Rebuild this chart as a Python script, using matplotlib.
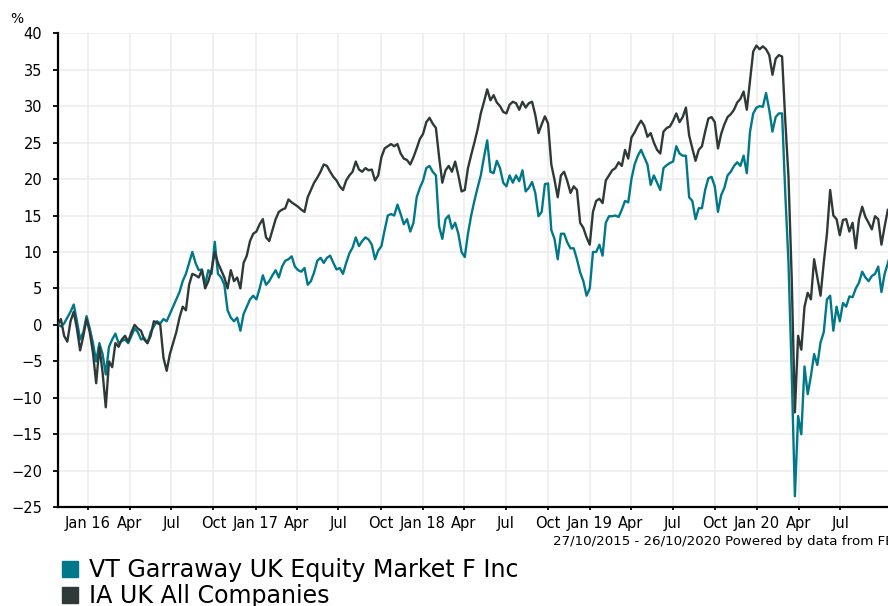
import numpy as np
import pandas as pd
import matplotlib
matplotlib.use("Agg")
import matplotlib.pyplot as plt
import matplotlib.dates as mdates
from matplotlib.patches import Rectangle

# weekly readings, 27/10/2015 - 26/10/2020, cumulative % return
start_date = "2015-10-27"
end_date = "2020-10-26"

vt_garraway = [
    0, -0.2, 0.2, 1.0, 1.8, 2.8, 0.5, -2.0, -1.0, 1.2,
    -0.5, -2.5, -5.0, -2.5, -4.0, -6.8, -3.0, -2.0, -1.2, -2.5,
    -2.2, -2.0, -2.5, -1.5, -0.5, -1.0, -2.0, -1.8, -2.5, -1.0,
    -0.2, 0.5, 0.2, 0.8, 0.5, 1.5, 2.5, 3.5, 4.5, 6.0,
    7.0, 8.5, 10.0, 8.5, 7.5, 7.6, 5.5, 7.5, 7.0, 11.4,
    7.0, 6.5, 5.5, 2.0, 1.0, 0.5, 1.0, -0.8, 1.5, 2.5,
    3.5, 4.0, 3.5, 5.0, 6.8, 5.5, 6.0, 6.8, 7.5, 6.5,
    8.0, 8.8, 9.0, 9.4, 8.0, 7.5, 7.3, 7.8, 5.5, 6.0,
    7.2, 8.8, 9.2, 8.5, 9.2, 9.5, 8.5, 7.6, 7.8, 7.0,
    8.5, 9.8, 10.6, 12.0, 10.8, 11.5, 12.0, 11.7, 11.0, 9.0,
    10.2, 10.8, 13.0, 15.0, 15.2, 15.0, 16.5, 15.2, 13.8, 14.5,
    12.8, 14.0, 17.5, 18.8, 19.8, 21.5, 21.8, 21.0, 20.5, 13.5,
    11.8, 14.5, 15.0, 13.2, 14.0, 12.5, 10.0, 9.3, 12.5, 15.0,
    17.0, 18.8, 20.5, 23.0, 25.3, 21.0, 20.8, 22.5, 21.5, 19.5,
    19.0, 20.5, 19.5, 20.5, 19.7, 21.2, 18.3, 18.8, 19.6, 18.1,
    14.9, 15.5, 19.3, 19.4, 13.0, 11.8, 9.0, 12.5, 12.5, 11.3,
    10.5, 10.5, 9.0, 7.2, 6.0, 4.0, 5.0, 10.0, 10.0, 11.0,
    9.5, 14.0, 14.9, 14.9, 15.0, 14.8, 15.8, 17.0, 16.8, 20.0,
    22.0, 23.2, 24.0, 23.0, 22.0, 19.2, 20.5, 19.5, 18.5, 21.5,
    21.9, 22.2, 22.4, 24.5, 23.5, 23.2, 23.2, 17.5, 17.0, 14.5,
    16.0, 16.0, 18.5, 20.1, 20.3, 19.0, 15.5, 17.8, 18.8, 20.5,
    21.0, 21.8, 22.3, 21.8, 23.2, 20.8, 26.5, 29.0, 29.8, 30.0,
    29.9, 31.8, 29.5, 26.5, 28.5, 29.0, 29.0, 18.0, 8.5, -6.5,
    -23.5, -12.5, -15.0, -5.7, -9.5, -7.0, -4.0, -5.5, -2.4, -1.0,
    3.5, 4.0, -0.8, 2.5, 0.5, 3.0, 2.5, 3.9, 3.8, 5.0,
    5.8, 7.3, 6.5, 6.0, 6.7, 7.0, 8.0, 4.5, 7.0, 8.5, 9.9,
]

ia_uk_all = [
    0, 0.8, -1.5, -2.3, 0.5, 1.8, -0.5, -3.5, -1.5, 0.8,
    -1.0, -3.8, -8.0, -3.0, -6.5, -11.3, -5.0, -5.8, -2.5, -3.0,
    -2.0, -1.5, -2.3, -1.0, 0.0, -0.5, -0.8, -2.0, -2.5, -1.5,
    0.5, 0.3, 0.0, -4.5, -6.3, -4.0, -2.5, -1.0, 1.0, 2.5,
    2.0, 5.5, 7.0, 6.8, 6.5, 7.5, 5.0, 6.0, 7.5, 10.0,
    8.5, 7.5, 6.5, 5.0, 7.5, 6.0, 6.5, 5.0, 8.5, 9.5,
    11.5, 12.5, 12.8, 13.8, 14.5, 12.0, 11.5, 13.0, 14.5, 15.5,
    15.8, 16.0, 17.2, 16.8, 16.5, 16.2, 15.8, 15.5, 17.5, 18.5,
    19.5, 20.2, 21.0, 22.0, 21.8, 21.0, 20.3, 19.8, 19.0, 18.5,
    19.8, 20.5, 21.0, 22.4, 21.3, 21.0, 21.5, 21.2, 21.3, 19.8,
    20.5, 23.0, 24.2, 24.5, 24.8, 24.5, 24.8, 23.5, 22.8, 22.6,
    22.0, 23.0, 24.2, 25.5, 26.2, 27.8, 28.4, 27.6, 27.0, 23.0,
    19.5, 21.2, 21.8, 21.0, 22.4, 20.5, 18.3, 18.5, 21.5, 23.3,
    25.0, 26.8, 29.0, 30.6, 32.3, 30.8, 31.5, 30.5, 30.0, 29.2,
    29.0, 30.2, 30.6, 30.4, 29.5, 30.6, 29.8, 30.4, 30.6, 28.8,
    26.3, 27.5, 28.6, 27.6, 22.0, 19.9, 17.5, 20.5, 21.0, 19.7,
    18.1, 19.0, 18.5, 14.0, 13.3, 12.0, 11.0, 15.5, 17.0, 17.3,
    16.7, 19.8, 20.5, 21.2, 21.5, 22.3, 21.8, 24.0, 22.8, 25.7,
    26.4, 27.3, 28.0, 27.3, 25.8, 26.3, 25.0, 24.0, 23.5, 26.5,
    27.0, 27.2, 28.0, 29.0, 27.8, 28.5, 29.8, 26.0, 24.2, 22.5,
    24.0, 24.5, 26.5, 28.3, 28.5, 27.8, 24.2, 26.2, 27.5, 28.5,
    28.9, 29.5, 30.5, 31.0, 32.0, 29.5, 33.5, 37.5, 38.3, 37.8,
    38.2, 37.8, 37.0, 34.3, 36.5, 37.0, 36.8, 28.0, 20.3, 6.5,
    -12.0, -1.5, -3.4, 2.5, 4.4, 3.5, 9.0, 6.5, 4.0, 8.5,
    12.5, 18.5, 15.0, 14.5, 12.3, 14.4, 14.5, 12.8, 14.0, 10.5,
    14.5, 16.2, 14.8, 14.0, 13.1, 14.9, 14.5, 11.0, 13.5, 15.8, 16.0,
]

series_names = ["VT Garraway UK Equity Market F Inc", "IA UK All Companies"]
series_colors = ["#00788a", "#2e3a37"]
y_ticks = list(range(-25, 45, 5))

dates = pd.date_range(start_date, periods=len(vt_garraway), freq="7D")
tick_dates = pd.date_range("2016-01-01", "2020-07-01", freq="QS")
tick_labels = [d.strftime("%b %y") if d.month == 1 else d.strftime("%b") for d in tick_dates]

plt.rcParams["font.family"] = ["DejaVu Sans"]

fig = plt.figure(figsize=(8.88, 6.06), dpi=100)
# right edge of the plot runs past the image, as in the original
ax = fig.add_axes([57.7 / 888, 98.8 / 606, 836.1 / 888, 474.0 / 606])

ax.plot(dates, vt_garraway, color=series_colors[0], lw=1.7, zorder=3)
ax.plot(dates, ia_uk_all, color=series_colors[1], lw=1.7, zorder=4)

ax.set_xlim(pd.Timestamp(start_date), pd.Timestamp(end_date))
ax.set_ylim(-25, 40)
ax.set_yticks(y_ticks)
ax.set_xticks(tick_dates)
ax.set_xticklabels(tick_labels)

ax.grid(True, color="#ececec", lw=1.1, zorder=0)
ax.set_axisbelow(True)
for s in ["top", "right"]:
    ax.spines[s].set_visible(False)
for s in ["left", "bottom"]:
    ax.spines[s].set_linewidth(1.6)
    ax.spines[s].set_color("black")

ax.tick_params(axis="y", length=3.5, width=1.3, pad=7.5, labelsize=10.5, colors="black")
ax.tick_params(axis="x", length=2.5, width=1.3, pad=4, labelsize=10.5, colors="black")

fig.text(10 / 888, 1 - 23 / 606, "%", fontsize=10, ha="left", va="baseline")
fig.text(553 / 888, 1 - 545 / 606, "27/10/2015 - 26/10/2020 Powered by data from FE",
         fontsize=9.65, ha="left", va="baseline")

# legend below the chart
for k, (name, col) in enumerate(zip(series_names, series_colors)):
    base = 577 + k * 26
    fig.patches.append(Rectangle((62 / 888, 1 - base / 606), 15.5 / 888, 16.5 / 606,
                                 transform=fig.transFigure, color=col))
    fig.text(89 / 888, 1 - base / 606, name, fontsize=17.1, ha="left", va="baseline")

fig.savefig("out.png", dpi=100)
